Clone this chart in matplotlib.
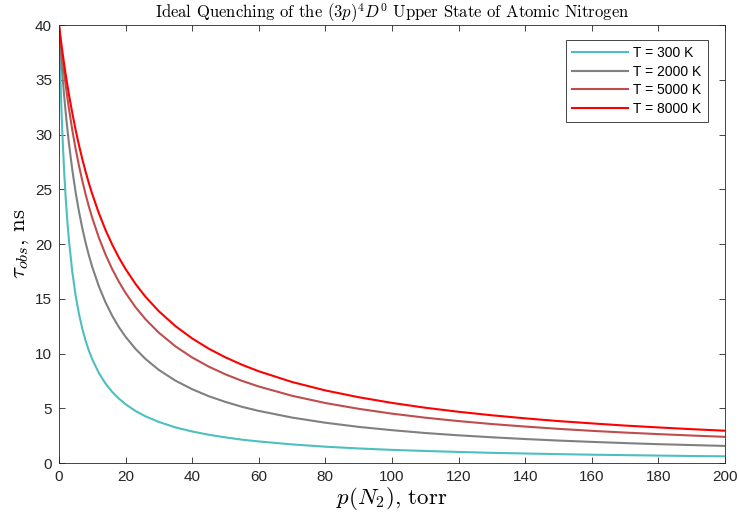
import matplotlib.pyplot as plt

plt.rcParams['mathtext.fontset'] = 'cm'
plt.rcParams['font.family'] = ['Liberation Sans', 'DejaVu Sans']

# pressure of N2 (torr)
p = [0, 0.25, 0.5, 0.75, 1, 1.5, 2, 2.5, 3, 4, 5, 6, 7, 8, 9, 10, 12, 14, 16,
     18, 20, 23, 26, 30, 35, 40, 45, 50, 55, 60, 70, 80, 90, 100, 110, 120,
     130, 140, 150, 160, 170, 180, 190, 200]

tau_300 = [40, 37.01, 34.44, 32.21, 30.24, 26.96, 24.31, 22.14, 20.33, 17.46,
           15.31, 13.63, 12.28, 11.17, 10.25, 9.47, 8.21, 7.25, 6.49, 5.88,
           5.37, 4.75, 4.26, 3.75, 3.25, 2.88, 2.58, 2.34, 2.13, 1.97, 1.70,
           1.49, 1.33, 1.20, 1.10, 1.01, 0.93, 0.87, 0.81, 0.76, 0.72, 0.68,
           0.64, 0.61]
tau_2000 = [40, 38.80, 37.67, 36.61, 35.60, 33.75, 32.08, 30.57, 29.19, 26.78,
            24.73, 22.98, 21.46, 20.12, 18.95, 17.90, 16.12, 14.66, 13.44,
            12.41, 11.53, 10.42, 9.50, 8.50, 7.52, 6.74, 6.10, 5.58, 5.13,
            4.76, 4.15, 3.68, 3.30, 3.00, 2.74, 2.53, 2.35, 2.19, 2.05, 1.93,
            1.82, 1.72, 1.64, 1.56]
tau_5000 = [40, 39.23, 38.48, 37.77, 37.08, 35.77, 34.56, 33.42, 32.36, 30.42,
            28.70, 27.17, 25.79, 24.54, 23.41, 22.38, 20.57, 19.03, 17.70,
            16.55, 15.54, 14.23, 13.13, 11.90, 10.65, 9.64, 8.80, 8.10, 7.50,
            6.99, 6.14, 5.48, 4.95, 4.51, 4.14, 3.83, 3.56, 3.33, 3.12, 2.94,
            2.78, 2.64, 2.51, 2.39]
tau_8000 = [40, 39.38, 38.78, 38.20, 37.63, 36.55, 35.53, 34.57, 33.65, 31.96,
            30.43, 29.04, 27.77, 26.61, 25.54, 24.56, 22.80, 21.27, 19.94,
            18.76, 17.72, 16.35, 15.18, 13.86, 12.50, 11.38, 10.44, 9.65, 8.97,
            8.38, 7.40, 6.63, 6.01, 5.49, 5.05, 4.68, 4.36, 4.08, 3.83, 3.62,
            3.42, 3.25, 3.09, 2.95]

series = [(tau_300, 'T = 300 K', '#4dbfbf'),
          (tau_2000, 'T = 2000 K', '#808080'),
          (tau_5000, 'T = 5000 K', '#c04d4d'),
          (tau_8000, 'T = 8000 K', '#ff0000')]

fig = plt.figure(figsize=(7.39, 5.23), dpi=100)
ax = fig.add_axes([0.0798, 0.1147, 0.9012, 0.8373])

for tau, lab, col in series:
    ax.plot(p, tau, color=col, lw=1.5, label=lab)

ax.set_xlim(0, 200)
ax.set_ylim(0, 40)
ax.set_xticks(range(0, 201, 20))
ax.set_yticks(range(0, 41, 5))
ax.tick_params(direction='in', top=True, right=True, length=4, width=0.6,
               color='#262626', labelcolor='#262626', labelsize=11, pad=5)
for s in ax.spines.values():
    s.set_color('#262626')
    s.set_linewidth(0.6)

ax.set_title(r'Ideal Quenching of the $(3p)^4D^0$ Upper State of Atomic Nitrogen',
             family='cmr10', fontsize=12, pad=5)
ax.set_xlabel(r'$p(N_2)$, torr', family='cmr10', fontsize=16.5, labelpad=1)
ax.set_ylabel(r'$\tau_{obs}$, ns', family='cmr10', fontsize=16.5, labelpad=3)

leg = ax.legend(loc='upper right', fontsize=10, fancybox=False,
                framealpha=1, edgecolor='#262626', handlelength=4.0,
                borderpad=0.45, labelspacing=0.32, handletextpad=0.4,
                borderaxespad=0, bbox_to_anchor=(0.9745, 0.966))
leg.get_frame().set_linewidth(0.6)

fig.savefig('out.png', dpi=100)
